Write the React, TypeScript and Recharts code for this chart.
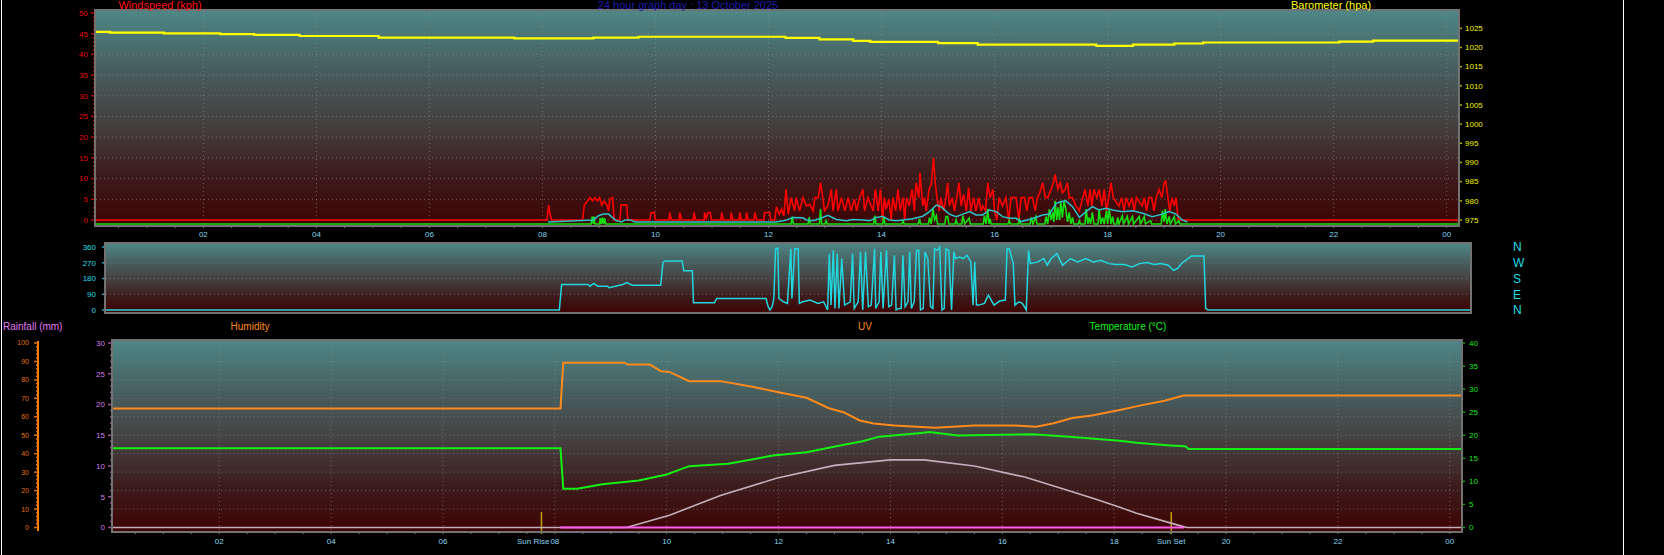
import React from "react";
import { ComposedChart, Line, XAxis, YAxis, CartesianGrid, ReferenceLine } from "recharts";

// 24 hour graph, 13 October 2025. x values are hours after midnight.
const title = "24 hour graph day : 13 October 2025";
const sunRise = 7.76;
const sunSet = 19.02;

// barometer (hpa), stepped readings
const barometer: [number, number][] = [
  [0.1, 1024.1], [0.35, 1023.9], [1.3, 1023.7], [2.3, 1023.5], [2.9, 1023.3], [3.7, 1023.0],
  [5.1, 1022.6], [7.5, 1022.4], [8.9, 1022.6], [9.7, 1022.8], [12.3, 1022.5], [12.9, 1022.1],
  [13.5, 1021.75], [13.8, 1021.45], [15.0, 1021.15], [15.7, 1020.75], [17.8, 1020.45],
  [18.45, 1020.75], [19.18, 1021.05], [19.69, 1021.3], [22.1, 1021.55], [22.7, 1021.8], [24.2, 1021.8],
];

// wind gust (kph)
const windGust: [number, number][] = [
  [0.1, 0], [8.08, 0], [8.11, 3.6], [8.13, 1.8], [8.16, 0], [8.71, 0], [8.74, 3.6], [8.84, 5.4], [8.89, 4.6],
  [8.93, 5.4], [8.97, 4.6], [9.01, 5.4], [9.05, 3.6], [9.09, 4.6], [9.14, 3.6], [9.17, 2.2], [9.19, 5.0],
  [9.24, 5.4], [9.27, 0], [9.37, 0], [9.39, 3.6], [9.49, 3.6], [9.51, 0],
  [9.9, 0], [9.92, 1.8], [9.98, 1.8], [10.0, 0], [10.24, 0], [10.25, 1.8], [10.28, 0],
  [10.42, 0], [10.43, 1.8], [10.46, 0], [10.67, 0], [10.68, 1.8], [10.71, 0],
  [10.86, 0], [10.87, 1.8], [10.9, 0.4], [10.93, 1.8], [10.97, 1.8], [10.99, 0],
  [11.16, 0], [11.17, 1.8], [11.2, 0], [11.33, 0], [11.34, 1.8], [11.37, 0],
  [11.48, 0], [11.49, 1.8], [11.52, 0], [11.6, 0], [11.61, 1.8], [11.64, 0],
  [11.74, 0], [11.76, 1.8], [11.79, 0], [11.92, 0], [11.93, 1.8], [12.02, 1.8], [12.04, 0],
  [12.11, 0], [12.14, 3.2], [12.19, 1.4], [12.23, 2.6], [12.27, 1.0], [12.31, 7.4], [12.35, 1.4],
  [12.4, 5.4], [12.46, 2.2], [12.49, 5.4], [12.55, 2.2], [12.61, 5.4], [12.67, 3.4], [12.73, 3.8],
  [12.79, 2.2], [12.82, 5.4], [12.88, 5.4], [12.92, 9.0], [12.96, 5.4], [12.99, 2.2], [13.05, 3.4],
  [13.11, 7.4], [13.14, 2.2], [13.2, 7.4], [13.23, 2.2], [13.29, 5.4], [13.35, 2.2], [13.41, 5.4],
  [13.46, 2.2], [13.52, 5.0], [13.56, 2.2], [13.61, 5.4], [13.67, 7.4], [13.7, 2.2], [13.76, 5.4],
  [13.85, 2.2], [13.89, 7.4], [13.94, 2.2], [13.98, 7.4], [14.02, 0], [14.05, 5.4], [14.08, 2.6],
  [14.13, 5.0], [14.17, 0], [14.2, 5.4], [14.25, 2.2], [14.29, 7.4], [14.33, 2.2], [14.38, 5.4],
  [14.41, 0], [14.44, 5.4], [14.49, 3.4], [14.54, 7.4], [14.58, 2.2], [14.61, 9.0], [14.66, 5.4],
  [14.68, 11.4], [14.73, 3.4], [14.76, 5.4], [14.79, 2.2], [14.84, 7.4], [14.88, 8.6], [14.92, 15.0],
  [14.95, 9.0], [14.98, 5.4], [15.02, 2.2], [15.05, 5.4], [15.1, 2.2], [15.14, 5.4], [15.17, 9.0],
  [15.2, 3.4], [15.25, 5.4], [15.29, 2.2], [15.33, 5.4], [15.37, 9.0], [15.41, 3.4], [15.45, 6.2],
  [15.5, 2.2], [15.54, 7.8], [15.58, 2.2], [15.63, 5.4], [15.67, 2.2], [15.72, 5.4], [15.76, 2.2],
  [15.79, 3.4], [15.84, 2.2], [15.88, 9.0], [15.92, 5.4], [15.97, 7.4], [16.0, 2.2], [16.04, 0],
  [16.08, 5.4], [16.14, 3.4], [16.2, 5.4], [16.25, 0], [16.29, 5.4], [16.38, 5.4], [16.43, 0],
  [16.47, 5.4], [16.53, 5.4], [16.57, 2.2], [16.61, 5.4], [16.67, 5.4], [16.72, 2.2], [16.76, 5.4],
  [16.8, 6.6], [16.85, 9.0], [16.9, 5.4], [16.94, 5.4], [17.0, 7.4], [17.04, 9.0], [17.07, 11.0],
  [17.12, 7.4], [17.16, 9.0], [17.2, 6.6], [17.25, 7.4], [17.29, 9.0], [17.32, 5.4], [17.38, 5.4],
  [17.44, 3.4], [17.5, 2.2], [17.56, 5.4], [17.6, 7.4], [17.65, 3.4], [17.69, 7.4], [17.72, 3.4],
  [17.76, 7.4], [17.81, 5.4], [17.85, 7.4], [17.9, 3.4], [17.94, 7.4], [17.98, 2.2], [18.02, 5.4],
  [18.06, 9.0], [18.1, 5.4], [18.2, 3.4], [18.25, 5.4], [18.29, 2.2], [18.33, 5.4], [18.38, 3.4],
  [18.43, 5.4], [18.47, 2.2], [18.51, 5.4], [18.61, 3.4], [18.65, 5.4], [18.69, 2.2], [18.73, 5.4],
  [18.78, 5.4], [18.82, 2.2], [18.86, 5.4], [18.91, 7.4], [18.96, 5.4], [19.0, 9.0], [19.03, 9.4],
  [19.06, 6.2], [19.1, 2.2], [19.14, 5.4], [19.18, 3.4], [19.21, 5.4], [19.25, 0], [24.2, 0],
];

// wind speed (kph)
const windSpeed: [number, number][] = [
  [0.1, 0], [8.86, 0], [8.88, 1.8], [8.9, 0], [8.91, 1.8], [8.93, 0], [9.01, 0], [9.02, 1.4], [9.04, 0],
  [9.06, 1.6], [9.08, 0], [9.1, 1.4], [9.12, 0], [12.4, 0], [12.42, 1.8], [12.44, 0], [12.7, 0],
  [12.72, 1.6], [12.74, 0], [12.9, 0], [12.92, 3.6], [12.94, 0], [13.0, 0], [13.02, 0.8], [13.04, 0],
  [13.86, 0], [13.88, 2.0], [13.9, 0], [14.02, 0], [14.04, 1.8], [14.06, 0], [14.36, 0], [14.38, 0.8],
  [14.4, 0], [14.65, 0], [14.67, 1.2], [14.69, 0], [14.83, 0], [14.85, 1.6], [14.88, 0], [14.91, 3.6],
  [14.94, 1.0], [14.97, 2.0], [14.99, 0], [15.12, 0], [15.14, 1.8], [15.17, 1.8], [15.19, 0],
  [15.3, 0], [15.32, 1.0], [15.34, 0], [15.42, 0], [15.44, 2.0], [15.47, 0], [15.55, 1.4], [15.57, 0],
  [15.8, 0], [15.82, 2.0], [15.85, 0], [15.88, 3.6], [15.9, 0], [15.92, 1.2], [15.94, 0],
  [16.24, 0], [16.26, 0.8], [16.28, 0], [16.42, 0], [16.44, 1.0], [16.46, 0], [16.63, 0], [16.65, 1.6],
  [16.68, 0], [16.73, 1.8], [16.75, 0], [16.89, 0], [16.91, 1.8], [16.94, 0], [16.97, 3.6], [17.0, 1.0],
  [17.03, 2.8], [17.05, 0.5], [17.07, 5.6], [17.1, 1.0], [17.12, 4.0], [17.15, 1.0], [17.17, 5.6],
  [17.2, 1.5], [17.23, 5.6], [17.26, 3.6], [17.29, 0.5], [17.32, 2.8], [17.35, 0], [17.38, 1.6],
  [17.4, 0], [17.48, 0], [17.5, 0.8], [17.52, 0], [17.6, 0], [17.62, 3.6], [17.65, 0], [17.67, 1.6],
  [17.7, 0], [17.73, 2.8], [17.76, 0], [17.83, 0], [17.85, 3.6], [17.88, 0], [17.91, 1.6], [17.94, 0],
  [17.98, 3.2], [18.0, 0], [18.03, 3.6], [18.06, 0], [18.09, 1.8], [18.11, 0], [18.16, 0], [18.18, 1.6],
  [18.2, 0], [18.26, 2.0], [18.28, 0], [18.35, 1.8], [18.37, 0], [18.44, 1.8], [18.46, 0], [18.56, 1.8],
  [18.58, 0], [18.65, 1.8], [18.67, 0], [18.76, 0.8], [18.78, 0], [18.95, 0], [18.97, 3.2], [19.0, 0.5],
  [19.02, 3.6], [19.05, 0], [19.09, 1.8], [19.11, 0], [19.18, 1.8], [19.2, 0], [19.26, 0.8], [19.28, 0],
  [24.2, 0],
];

// average wind (kph)
const windAverage: [number, number][] = [
  [8.1, 0], [8.9, 0.5], [8.99, 1.5], [9.08, 1.9], [9.17, 1.9], [9.22, 1.3], [9.31, 0.3], [9.4, 0],
  [9.46, 0.5], [9.55, 0.5], [9.64, 0], [12.14, 0], [12.3, 0.4], [12.43, 1.1], [12.61, 1.0], [12.67, 0.5],
  [12.79, 0.3], [12.96, 1.1], [13.05, 1.6], [13.2, 0.6], [13.38, 0.3], [13.49, 0.6], [13.67, 0.5],
  [13.79, 0.3], [13.91, 1.1], [14.02, 1.3], [14.14, 0.5], [14.26, 0.3], [14.38, 0.5], [14.55, 0.8],
  [14.73, 1.4], [14.85, 2.5], [14.97, 4.1], [15.05, 3.7], [15.2, 1.9], [15.32, 1.3], [15.44, 1.9],
  [15.56, 2.5], [15.67, 1.7], [15.79, 1.7], [15.91, 2.9], [16.03, 2.5], [16.14, 1.3], [16.26, 0.9],
  [16.38, 0.9], [16.47, 0.1], [16.61, 0.6], [16.73, 1.1], [16.85, 1.7], [16.97, 1.9], [17.09, 4.5],
  [17.17, 4.9], [17.26, 5.1], [17.38, 3.7], [17.5, 1.1], [17.62, 2.5], [17.73, 3.7], [17.85, 2.9],
  [17.97, 3.3], [18.09, 2.9], [18.26, 2.5], [18.44, 2.7], [18.62, 2.1], [18.79, 1.3], [18.97, 1.9],
  [19.09, 2.5], [19.21, 1.9], [19.32, 0.5], [19.41, 0],
];

// wind direction (degrees)
const windDirection: [number, number][] = [
  [0.1, 0], [8.11, 0], [8.15, 146], [8.62, 146], [8.65, 136], [8.72, 152], [8.79, 136], [8.96, 136],
  [8.99, 127], [9.23, 146], [9.3, 157], [9.4, 142], [9.9, 142], [9.94, 271], [9.97, 280], [10.28, 280],
  [10.31, 224], [10.46, 224], [10.48, 42], [10.85, 42], [10.89, 66], [11.76, 66], [11.8, 19], [11.83, 0],
  [11.87, 19], [11.9, 66], [11.93, 350], [11.97, 354], [11.99, 66], [12.07, 47], [12.14, 38], [12.2, 350],
  [12.22, 66], [12.27, 350], [12.33, 350], [12.35, 38], [12.41, 47], [12.54, 57], [12.68, 38], [12.78, 47],
  [12.85, 0], [12.88, 322], [12.91, 28], [12.95, 341], [12.98, 9], [13.02, 322], [13.05, 9], [13.1, 294],
  [13.15, 28], [13.25, 47], [13.29, 322], [13.32, 9], [13.39, 47], [13.43, 332], [13.47, 0], [13.52, 332],
  [13.57, 19], [13.62, 28], [13.68, 350], [13.7, 9], [13.76, 47], [13.79, 332], [13.83, 9], [13.89, 341],
  [13.93, 19], [13.98, 28], [14.03, 313], [14.06, 0], [14.11, 9], [14.15, 9], [14.18, 313], [14.22, 19],
  [14.27, 47], [14.3, 332], [14.33, 9], [14.38, 47], [14.42, 341], [14.46, 341], [14.49, 0], [14.54, 9],
  [14.57, 332], [14.62, 294], [14.67, 19], [14.71, 9], [14.74, 350], [14.79, 341], [14.83, 360], [14.87, 0],
  [14.91, 9], [14.94, 350], [14.99, 341], [15.04, 0], [15.08, 332], [15.11, 294], [15.18, 303], [15.25, 294],
  [15.31, 313], [15.38, 275], [15.42, 28], [15.45, 275], [15.48, 28], [15.52, 28], [15.62, 38], [15.69, 85],
  [15.79, 28], [15.89, 51], [15.99, 57], [16.02, 350], [16.06, 350], [16.13, 265], [16.16, 28], [16.23, 47],
  [16.29, 38], [16.36, 0], [16.4, 341], [16.43, 265], [16.56, 275], [16.67, 294], [16.73, 256], [16.8, 294],
  [16.9, 322], [17.0, 256], [17.14, 294], [17.27, 275], [17.41, 294], [17.55, 275], [17.68, 284],
  [17.82, 265], [17.95, 260], [18.09, 260], [18.23, 246], [18.36, 265], [18.49, 271], [18.62, 260],
  [18.74, 265], [18.87, 256], [18.96, 227], [19.03, 237], [19.12, 271], [19.22, 294], [19.28, 309],
  [19.5, 309], [19.53, 9], [19.57, 0], [24.2, 0],
];
const compassTicks = [0, 90, 180, 270, 360];
const compassLabels = ["N", "E", "S", "W", "N"];

// lower panel
const humidity: [number, number][] = [
  [0.1, 19.35], [8.1, 19.35], [8.15, 26.8], [9.24, 26.8], [9.3, 26.5], [9.7, 26.5], [9.9, 25.4],
  [10.05, 25.3], [10.4, 23.8], [10.96, 23.8], [11.53, 22.9], [12.0, 22.0], [12.5, 21.1], [12.9, 19.4],
  [13.16, 18.75], [13.45, 17.4], [13.7, 16.9], [14.07, 16.6], [14.8, 16.2], [15.5, 16.6], [16.2, 16.6],
  [16.6, 16.4], [16.9, 16.9], [17.25, 17.8], [17.6, 18.2], [18.1, 19.1], [18.5, 19.9], [18.9, 20.6],
  [19.24, 21.45], [24.2, 21.45],
];
const temperature: [number, number][] = [
  [0.1, 17.2], [8.1, 17.2], [8.15, 8.4], [8.4, 8.4], [8.85, 9.4], [9.5, 10.2], [10.0, 11.5], [10.4, 13.3],
  [11.1, 13.8], [11.9, 15.6], [12.5, 16.3], [13.1, 17.8], [13.5, 18.7], [13.8, 19.7], [14.5, 20.45],
  [14.7, 20.7], [15.2, 19.95], [16.55, 20.2], [17.25, 19.6], [17.7, 19.2], [18.1, 18.8], [18.4, 18.4],
  [19.0, 17.8], [19.27, 17.6], [19.33, 17.0], [24.2, 17.0],
];
const uvIndex: [number, number][] = [
  [0.1, 0], [9.28, 0], [10.05, 2.0], [10.96, 5.2], [11.96, 8.0], [13.0, 10.1], [14.0, 11.0], [14.6, 11.0],
  [15.5, 10.0], [16.4, 8.2], [17.25, 5.8], [17.7, 4.5], [18.1, 3.3], [18.4, 2.3], [19.0, 0.75],
  [19.25, 0.1], [19.3, 0], [24.2, 0],
];
const rainfall: [number, number][] = [[8.1, 0], [19.25, 0]];

const FONT = "'Liberation Sans', Arial, sans-serif";
const DOMAIN: [number, number] = [0.1, 24.2];
const steps = (from: number, to: number, by: number) =>
  Array.from({ length: Math.round((to - from) / by) + 1 }, (_, i) => +(from + i * by).toFixed(2));
const halfHours = steps(0.5, 24, 0.5);
const lowerTicks = [...halfHours, sunRise, sunSet].sort((a, b) => a - b);
const pts = (rows: [number, number][]) => rows.map(([h, v]) => ({ h, v }));

const hourLabel = (v: number) => {
  if (v === sunRise) return "Sun Rise";
  if (v === sunSet) return "Sun Set";
  if (Number.isInteger(v) && v % 2 === 0) return v === 24 ? "00" : String(v).padStart(2, "0");
  return "";
};

type YTickOpts = {
  side: "left" | "right";
  size: number;
  margin: number;
  major: number;
  color: string;
  line: string;
  fontSize?: number;
};

const yTick = (o: YTickOpts) => (p: any) => {
  const v = p.payload.value as number;
  const isMajor = Math.abs(v / o.major - Math.round(v / o.major)) < 1e-6;
  const axisX = o.side === "left" ? p.x + o.margin + o.size : p.x - o.margin - o.size;
  const len = isMajor ? o.size : Math.ceil(o.size / 2);
  return (
    <g>
      <line x1={axisX} x2={o.side === "left" ? axisX - len : axisX + len} y1={p.y} y2={p.y} stroke={o.line} strokeWidth={1.5} />
      {isMajor && (
        <text x={p.x} y={p.y} dy="0.35em" textAnchor={o.side === "left" ? "end" : "start"} fill={o.color} fontSize={o.fontSize ?? 8} fontFamily={FONT}>
          {String(v)}
        </text>
      )}
    </g>
  );
};

const xTick = (size: number, margin: number) => (p: any) => {
  const v = p.payload.value as number;
  const axisY = p.y - margin - size;
  const sun = v === sunRise || v === sunSet;
  // the sunrise label sits just left of its marker so it clears the "08" label
  const rise = v === sunRise;
  const label = hourLabel(v);
  return (
    <g>
      <line x1={p.x} x2={p.x} y1={axisY} y2={axisY + size} stroke={sun ? "#c8a000" : "#858585"} strokeWidth={sun ? 1.5 : 1} />
      {label && (
        <text x={rise ? p.x + 8 : p.x} y={p.y} dy="0.71em" textAnchor={rise ? "end" : "middle"} fill="#86d4f2" fontSize={8} fontFamily={FONT}>
          {label}
        </text>
      )}
    </g>
  );
};

const Background = ({ id }: { id: string }) => (
  <defs>
    <linearGradient id={id} x1="0" y1="0" x2="0" y2="1">
      <stop offset="0%" stopColor="#4d8686" />
      <stop offset="30%" stopColor="#475a5a" />
      <stop offset="52%" stopColor="#454141" />
      <stop offset="76%" stopColor="#3d1c1c" />
      <stop offset="100%" stopColor="#3e0303" />
    </linearGradient>
  </defs>
);

const gridStyle = { stroke: "#8c8c8c", strokeOpacity: 0.6, strokeDasharray: "1 3" };

const Label = ({ x, y, color, text, size = 10, center = true }: any) => (
  <div
    style={{
      position: "absolute",
      left: x,
      top: y,
      transform: center ? "translateX(-50%)" : undefined,
      color,
      fontSize: size,
      lineHeight: 1,
      whiteSpace: "nowrap",
    }}
  >
    {text}
  </div>
);

const Frame = ({ l, t, r, b }: any) => (
  <div
    style={{
      position: "absolute",
      left: l - 2,
      top: t - 2,
      width: r - l,
      height: b - t,
      border: "2px solid #727272",
      pointerEvents: "none",
    }}
  />
);

export default function App() {
  return (
    <div
      style={{
        position: "absolute",
        left: 0,
        top: 0,
        width: 1664,
        height: 555,
        background: "#000",
        overflow: "hidden",
        fontFamily: FONT,
      }}
    >
      {/* wind speed and barometer */}
      <div style={{ position: "absolute", left: 0, top: 0 }}>
        <ComposedChart width={1664} height={250} margin={{ top: 11, right: 156, bottom: 5, left: 46 }}>
          <Background id="bgTop" />
          <CartesianGrid
            yAxisId="wind"
            fill="url(#bgTop)"
            {...gridStyle}
            horizontalValues={steps(0, 50, 5)}
            verticalValues={steps(2, 24, 2)}
          />
          <XAxis
            dataKey="h"
            type="number"
            domain={DOMAIN}
            allowDataOverflow
            ticks={halfHours}
            interval={0}
            height={20}
            tickSize={3}
            tickMargin={3}
            tickLine={false}
            axisLine={false}
            tick={xTick(3, 3)}
          />
          <YAxis
            yAxisId="wind"
            width={50}
            domain={[0, 50]}
            ticks={steps(0, 50, 1)}
            interval={0}
            padding={{ top: 2, bottom: 5 }}
            tickSize={5}
            tickMargin={3}
            tickLine={false}
            axisLine={false}
            tick={yTick({ side: "left", size: 5, margin: 3, major: 5, color: "#e80000", line: "#c00000" })}
          />
          {/* the speed and average traces sit a few pixels lower, as in the original plot */}
          <YAxis yAxisId="speed" width={0} domain={[0, 50]} padding={{ top: 5.6, bottom: 1 }} tick={false} tickLine={false} axisLine={false} />
          <YAxis yAxisId="avg" width={0} domain={[0, 50]} padding={{ top: 3.6, bottom: 3 }} tick={false} tickLine={false} axisLine={false} />
          <YAxis
            yAxisId="baro"
            orientation="right"
            width={50}
            domain={[975, 1029]}
            ticks={steps(975, 1029, 1)}
            interval={0}
            padding={{ top: 2, bottom: 5 }}
            tickSize={4}
            tickMargin={3}
            tickLine={false}
            axisLine={false}
            tick={yTick({ side: "right", size: 4, margin: 3, major: 5, color: "#f2f200", line: "#b0b000" })}
          />
          <Line data={pts(barometer)} dataKey="v" yAxisId="baro" type="stepAfter" stroke="#ffff00" strokeWidth={2.2} dot={false} isAnimationActive={false} />
          <Line data={pts(windGust)} dataKey="v" yAxisId="wind" type="linear" stroke="#ff0000" strokeWidth={1.6} dot={false} isAnimationActive={false} />
          <Line data={pts(windSpeed)} dataKey="v" yAxisId="speed" type="linear" stroke="#12e012" strokeWidth={1.6} dot={false} isAnimationActive={false} />
          <Line data={pts(windAverage)} dataKey="v" yAxisId="avg" type="linear" stroke="#2cc4cc" strokeWidth={1.5} dot={false} isAnimationActive={false} />
        </ComposedChart>
      </div>
      <Frame l={96} t={11} r={1458} b={225} />

      {/* wind direction, with the compass scale on the right */}
      <div style={{ position: "absolute", left: 0, top: 232 }}>
        <ComposedChart width={1664} height={86} margin={{ top: 12, right: 150, bottom: 6, left: 66 }}>
          <Background id="bgMid" />
          <CartesianGrid yAxisId="dir" fill="url(#bgMid)" {...gridStyle} horizontalValues={[90, 180, 270]} vertical={false} />
          <XAxis dataKey="h" type="number" domain={DOMAIN} allowDataOverflow hide />
          <YAxis
            yAxisId="dir"
            width={40}
            domain={[0, 360]}
            ticks={steps(0, 360, 30)}
            interval={0}
            padding={{ top: 3, bottom: 2 }}
            tickSize={4}
            tickMargin={6}
            tickLine={false}
            axisLine={false}
            tick={yTick({ side: "left", size: 4, margin: 6, major: 90, color: "#22dde6", line: "#1aa8b0" })}
          />
          <YAxis
            yAxisId="compass"
            orientation="right"
            width={44}
            domain={[0, 360]}
            ticks={compassTicks}
            interval={0}
            padding={{ top: 3, bottom: 2 }}
            tickSize={0}
            tickMargin={43}
            tickLine={false}
            axisLine={false}
            tickFormatter={(v: number) => compassLabels[compassTicks.indexOf(v)]}
            tick={{ fill: "#22dde6", fontSize: 12, fontFamily: FONT }}
          />
          <Line data={pts(windDirection)} dataKey="v" yAxisId="compass" type="linear" stroke="#22d6de" strokeOpacity={0} strokeWidth={1} dot={false} isAnimationActive={false} legendType="none" />
          <Line data={pts(windDirection)} dataKey="v" yAxisId="dir" type="linear" stroke="#22d6de" strokeWidth={1.5} dot={false} isAnimationActive={false} />
        </ComposedChart>
      </div>
      <Frame l={106} t={244} r={1470} b={312} />

      {/* humidity, UV, temperature, rainfall */}
      <div style={{ position: "absolute", left: 0, top: 330 }}>
        <ComposedChart width={1664} height={225} margin={{ top: 11, right: 163, bottom: 4, left: 0 }}>
          <Background id="bgLow" />
          <CartesianGrid
            yAxisId="rain"
            fill="url(#bgLow)"
            {...gridStyle}
            horizontalValues={steps(0, 100, 10)}
            verticalValues={steps(2, 24, 2)}
          />
          <XAxis
            dataKey="h"
            type="number"
            domain={DOMAIN}
            allowDataOverflow
            ticks={lowerTicks}
            interval={0}
            height={20}
            tickSize={3}
            tickMargin={4}
            tickLine={false}
            axisLine={false}
            tick={xTick(3, 4)}
          />
          <YAxis
            yAxisId="hum"
            width={75}
            domain={[0, 30]}
            ticks={steps(0, 30, 1)}
            interval={0}
            padding={{ top: 2, bottom: 3.5 }}
            tickSize={5}
            tickMargin={3}
            tickLine={false}
            axisLine={false}
            tick={yTick({ side: "left", size: 5, margin: 3, major: 5, color: "#d47ae8", line: "#9c4c98" })}
          />
          <YAxis
            yAxisId="rain"
            width={38}
            domain={[0, 100]}
            ticks={steps(0, 100, 2)}
            interval={0}
            padding={{ top: 2, bottom: 3.5 }}
            tickSize={4}
            tickMargin={5}
            tickLine={false}
            axisLine={{ stroke: "#ff8000", strokeWidth: 2 }}
            tick={yTick({ side: "left", size: 4, margin: 5, major: 10, color: "#e07010", line: "#e07010", fontSize: 7 })}
          />
          <YAxis
            yAxisId="temp"
            orientation="right"
            width={40}
            domain={[0, 40]}
            ticks={steps(0, 40, 1)}
            interval={0}
            padding={{ top: 2, bottom: 3.5 }}
            tickSize={4}
            tickMargin={4}
            tickLine={false}
            axisLine={false}
            tick={yTick({ side: "right", size: 4, margin: 4, major: 5, color: "#14e614", line: "#10a010" })}
          />
          <ReferenceLine
            yAxisId="hum"
            ifOverflow="visible"
            segment={[{ x: sunRise, y: -0.55 }, { x: sunRise, y: 2.5 }]}
            stroke="#c8a000"
            strokeWidth={1.5}
          />
          <ReferenceLine
            yAxisId="hum"
            ifOverflow="visible"
            segment={[{ x: sunSet, y: -0.55 }, { x: sunSet, y: 2.5 }]}
            stroke="#c8a000"
            strokeWidth={1.5}
          />
          <Line data={pts(uvIndex)} dataKey="v" yAxisId="hum" type="linear" stroke="#c4b0bc" strokeWidth={1.6} dot={false} isAnimationActive={false} />
          <Line data={pts(rainfall)} dataKey="v" yAxisId="rain" type="linear" stroke="#ff5cf4" strokeWidth={2} dot={false} isAnimationActive={false} />
          <Line data={pts(humidity)} dataKey="v" yAxisId="hum" type="linear" stroke="#ff8a1c" strokeWidth={2} dot={false} isAnimationActive={false} />
          <Line data={pts(temperature)} dataKey="v" yAxisId="temp" type="linear" stroke="#14f014" strokeWidth={2} dot={false} isAnimationActive={false} />
        </ComposedChart>
      </div>
      <Frame l={113} t={341} r={1461} b={531} />

      <Label x={160} y={0} color="#ff1010" size={11} text="Windspeed (kph)" />
      <Label x={688} y={0} color="#1c1cac" size={11} text={title} />
      <Label x={1331} y={0} color="#ffff00" size={11} text="Barometer (hpa)" />
      <Label x={3} y={322} color="#e07af0" center={false} text="Rainfall (mm)" />
      <Label x={250} y={322} color="#ff8a1c" text="Humidity" />
      <Label x={865} y={322} color="#ff8a1c" text="UV" />
      <Label x={1128} y={322} color="#14f014" text="Temperature (°C)" />

      <div style={{ position: "absolute", left: 1, top: 0, width: 1, height: 555, background: "#fff" }} />
      <div style={{ position: "absolute", left: 1623, top: 0, width: 1, height: 555, background: "#fff" }} />
    </div>
  );
}
